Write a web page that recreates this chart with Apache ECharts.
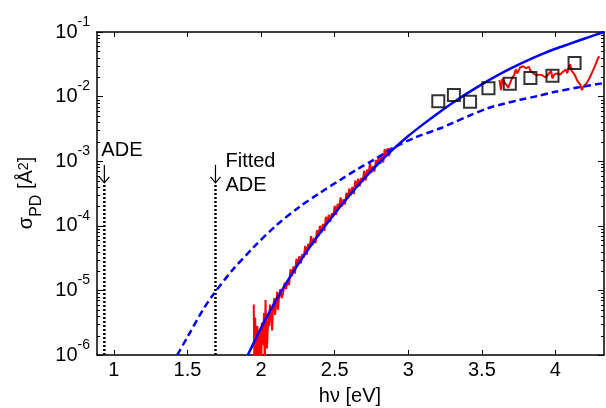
<!DOCTYPE html>
<html><head><meta charset="utf-8">
<script src="https://cdn.jsdelivr.net/npm/echarts@6/dist/echarts.min.js"></script>
<style>html,body{margin:0;padding:0;background:#fff}#c{width:606px;height:408px}</style>
</head><body><div id="c"></div>
<script>
const FONT = '"Liberation Sans", Arial, Helvetica, sans-serif';
const X_MIN = 0.885, X_MAX = 4.33;
const Y_MIN = 1e-6, Y_MAX = 1e-1;
const xTicks = [1, 1.5, 2, 2.5, 3, 3.5, 4];
const yDecadeExps = [-6, -5, -4, -3, -2, -1];
const minorMantissas = [2, 3, 4, 5, 6, 7, 8, 9];
const adeX = [0.935, 1.69];
const adeTop = 4.3e-4;

// [hν (eV), log10 σ]
const fitSolidLog = [[1.91,-6.0],[2.0,-5.58],[2.1,-5.16],[2.2,-4.78],[2.3,-4.43],[2.4,-4.11],[2.5,-3.81],[2.6,-3.53],[2.7,-3.27],[2.8,-3.03],[2.9,-2.81],[3.0,-2.61],[3.1,-2.43],[3.2,-2.26],[3.3,-2.10],[3.4,-1.95],[3.5,-1.81],[3.6,-1.68],[3.7,-1.56],[3.8,-1.45],[3.9,-1.35],[4.0,-1.26],[4.1,-1.18],[4.2,-1.10],[4.33,-1.0]];
const fitDashedLog = [[1.43,-6.0],[1.5,-5.72],[1.605,-5.30],[1.67,-5.08],[1.8,-4.70],[1.946,-4.34],[2.1,-4.00],[2.265,-3.70],[2.4,-3.49],[2.537,-3.29],[2.65,-3.13],[2.764,-2.98],[2.91,-2.78],[3.05,-2.63],[3.218,-2.49],[3.3,-2.41],[3.42,-2.29],[3.54,-2.18],[3.65,-2.11],[3.76,-2.05],[3.88,-1.99],[3.99,-1.93],[4.15,-1.86],[4.33,-1.79]];
const expLowLog = [[1.95,-5.22],[1.955,-6.3],[1.96,-5.42],[1.965,-6.3],[1.97,-5.7],[1.975,-5.55],[1.98,-6.3],[1.99,-5.62],[2.00,-6.3],[2.005,-5.5],[2.01,-5.85],[2.02,-5.35],[2.025,-6.2],[2.03,-5.15],[2.035,-5.6],[2.04,-5.9],[2.05,-5.35],[2.055,-5.55],[2.06,-5.22],[2.07,-5.45],[2.075,-5.62],[2.08,-5.3],[2.09,-5.12],[2.095,-5.38],[2.10,-5.26],[2.11,-5.02],[2.115,-5.3],[2.12,-5.15],[2.13,-4.98],[2.14,-5.12],[2.15,-5.04],[2.16,-4.88],[2.17,-4.98],[2.18,-4.84],[2.19,-4.92],[2.20,-4.67],[2.21,-4.78],[2.22,-4.63],[2.23,-4.74],[2.24,-4.51],[2.25,-4.60],[2.26,-4.47],[2.27,-4.58],[2.28,-4.44],[2.29,-4.49],[2.30,-4.31],[2.31,-4.45],[2.32,-4.28],[2.33,-4.33],[2.34,-4.16],[2.35,-4.30],[2.36,-4.19],[2.37,-4.27],[2.38,-4.07],[2.39,-4.15],[2.40,-4.00],[2.41,-4.11],[2.42,-3.97],[2.43,-4.08],[2.44,-3.86],[2.45,-3.95],[2.46,-3.83],[2.47,-3.94],[2.48,-3.81],[2.49,-3.86],[2.50,-3.69],[2.51,-3.83],[2.52,-3.66],[2.53,-3.73],[2.54,-3.56],[2.55,-3.70],[2.56,-3.59],[2.57,-3.67],[2.58,-3.49],[2.59,-3.57],[2.60,-3.42],[2.61,-3.53],[2.62,-3.40],[2.63,-3.51],[2.64,-3.30],[2.65,-3.39],[2.66,-3.27],[2.67,-3.39],[2.68,-3.26],[2.69,-3.32],[2.70,-3.15],[2.71,-3.30],[2.72,-3.13],[2.73,-3.20],[2.74,-3.03],[2.75,-3.18],[2.76,-3.08],[2.77,-3.16],[2.78,-2.98],[2.79,-3.06],[2.80,-2.92],[2.81,-3.04],[2.82,-2.91],[2.83,-3.02],[2.84,-2.81],[2.85,-2.91],[2.86,-2.80],[2.87,-2.92],[2.88,-2.79]];
const expHighLog = [[3.62,-1.74],[3.63,-1.90],[3.64,-1.72],[3.66,-1.80],[3.68,-1.86],[3.70,-1.74],[3.72,-1.66],[3.73,-1.58],[3.74,-1.64],[3.76,-1.55],[3.78,-1.53],[3.80,-1.56],[3.82,-1.54],[3.83,-1.60],[3.85,-1.64],[3.87,-1.67],[3.89,-1.66],[3.91,-1.67],[3.93,-1.70],[3.95,-1.66],[3.97,-1.60],[3.98,-1.72],[3.99,-1.66],[4.01,-1.64],[4.03,-1.66],[4.05,-1.62],[4.07,-1.58],[4.08,-1.64],[4.09,-1.55],[4.10,-1.50],[4.11,-1.60],[4.13,-1.66],[4.15,-1.76],[4.17,-1.82],[4.18,-1.90],[4.19,-1.84],[4.21,-1.80],[4.23,-1.72],[4.25,-1.62],[4.27,-1.52],[4.29,-1.40],[4.30,-1.38]];
const squaresX = [3.204, 3.31, 3.42, 3.545, 3.69, 3.83, 3.98, 4.13];
const squaresY = [8.5e-3, 1.06e-2, 8.3e-3, 1.35e-2, 1.58e-2, 1.94e-2, 2.1e-2, 3.3e-2];

const fromLog = arr => arr.map(p => [p[0], Math.pow(10, p[1])]);
const minorVals = [];
yDecadeExps.slice(0, -1).forEach(e => minorMantissas.forEach(m => minorVals.push(m * Math.pow(10, e))));

const chart = echarts.init(document.getElementById('c'), null, {renderer: 'canvas'});
const axisLine = {show: true, lineStyle: {color: '#000', width: 1.5}};
const option = {
  animation: false,
  backgroundColor: '#fff',
  textStyle: {fontFamily: FONT},
  grid: {left: 97, right: 2, top: 32, bottom: 53, containLabel: false},
  xAxis: [{
    type: 'value', min: X_MIN, max: X_MAX, position: 'bottom',
    axisLine, splitLine: {show: false},
    axisTick: {inside: true, length: 5, lineStyle: {color: '#000', width: 1}, customValues: xTicks},
    axisLabel: {customValues: xTicks, color: '#000', fontSize: 20, fontFamily: FONT, margin: 5, formatter: v => String(v)}
  }, {
    type: 'value', min: X_MIN, max: X_MAX, position: 'top',
    axisLine, splitLine: {show: false},
    axisTick: {inside: true, length: 5, lineStyle: {color: '#000', width: 1}, customValues: xTicks},
    axisLabel: {show: false}
  }],
  yAxis: [{
    type: 'log', logBase: 10, min: Y_MIN, max: Y_MAX, position: 'left',
    axisLine, splitLine: {show: false},
    axisTick: {inside: true, length: 6, lineStyle: {color: '#000', width: 1}},
    axisLabel: {
      color: '#000', margin: 7, fontFamily: FONT,
      formatter: v => '{b|10}{s|' + Math.round(Math.log10(v)) + '}',
      rich: {
        b: {fontSize: 20, lineHeight: 20, fontFamily: FONT, color: '#000'},
        s: {fontSize: 14, lineHeight: 14, padding: [0, 0, 20, 0], fontFamily: FONT, color: '#000'}
      }
    }
  }, {
    type: 'log', logBase: 10, min: Y_MIN, max: Y_MAX, position: 'right',
    axisLine, splitLine: {show: false},
    axisTick: {inside: true, length: 6, lineStyle: {color: '#000', width: 1}},
    axisLabel: {show: false}
  }],
  series: [
    {type: 'custom', silent: true, clip: false, z: 1, xAxisIndex: 0, yAxisIndex: 0,
      data: minorVals.map(v => [X_MIN, v]),
      renderItem(params, api) {
        const cs = params.coordSys;
        const y = Math.round(api.coord([X_MIN, api.value(1)])[1]) + 0.5;
        return {type: 'group', children: [
          {type: 'line', shape: {x1: cs.x, y1: y, x2: cs.x + 3, y2: y}, style: {stroke: '#000', lineWidth: 1}},
          {type: 'line', shape: {x1: cs.x + cs.width - 3, y1: y, x2: cs.x + cs.width, y2: y}, style: {stroke: '#000', lineWidth: 1}}
        ]};
      }
    },
    ...adeX.map(x => ({type: 'line', symbol: 'none', silent: true, z: 2,
      data: [[x, Y_MIN], [x, adeTop]],
      lineStyle: {color: '#000', width: 2.5, type: [2, 2]}})),
    {type: 'line', name: 'exp1', symbol: 'none', z: 3, data: fromLog(expLowLog), lineStyle: {color: '#ff0000', width: 2}},
    {type: 'line', name: 'exp2', symbol: 'none', z: 3, data: fromLog(expHighLog), lineStyle: {color: '#ff0000', width: 2}},
    {type: 'line', name: 'dashed', symbol: 'none', smooth: 0.3, z: 4, data: fromLog(fitDashedLog), lineStyle: {color: '#0000ff', width: 2.5, type: [7, 4]}},
    {type: 'line', name: 'solid', symbol: 'none', smooth: 0.3, z: 4, data: fromLog(fitSolidLog), lineStyle: {color: '#0000ff', width: 2.5}},
    {type: 'scatter', name: 'squares', z: 5, symbol: 'rect', symbolSize: 12,
      data: squaresX.map((x, i) => [x, squaresY[i]]),
      itemStyle: {color: 'rgba(0,0,0,0)', borderColor: '#000', borderWidth: 2}}
  ]
};
chart.setOption(option);

const px0 = chart.convertToPixel({xAxisIndex: 0, yAxisIndex: 0}, [adeX[0], adeTop]);
const px1 = chart.convertToPixel({xAxisIndex: 0, yAxisIndex: 0}, [adeX[1], adeTop]);
const txt = (x, y, text, align) => ({type: 'text', x, y, silent: true,
  style: {text, fill: '#000', font: '20px ' + FONT, textAlign: align || 'left', textVerticalAlign: 'middle'}});
const arrow = (x, yBottom) => ([
  {type: 'line', silent: true, shape: {x1: x, y1: yBottom - 19, x2: x, y2: yBottom - 1}, style: {stroke: '#000', lineWidth: 1.2}},
  {type: 'polyline', silent: true, shape: {points: [[x - 5, yBottom - 7], [x, yBottom - 1], [x + 5, yBottom - 7]]}, style: {stroke: '#000', lineWidth: 1.2, fill: null}}
]);
chart.setOption({graphic: [
  txt(px0[0] - 3, px0[1] - 34, 'ADE'),
  ...arrow(px0[0], px0[1] - 1),
  ...arrow(px1[0], px1[1] - 1),
  txt(px1[0] + 10, px1[1] - 23, 'Fitted'),
  txt(px1[0] + 10, px1[1] + 1, 'ADE'),
  {type: 'text', x: 350, y: 396, silent: true,
    style: {text: 'hν [eV]', fill: '#000', font: '20px ' + FONT, textAlign: 'center', textVerticalAlign: 'middle'}},
  {type: 'text', x: 26, y: 193, rotation: Math.PI / 2, silent: true,
    style: {
      text: '{m|σ}{sub|PD}{m| [Å}{sup|2}{m|]}', textAlign: 'center', textVerticalAlign: 'middle',
      rich: {
        m: {fontSize: 20, lineHeight: 20, fontFamily: FONT, fill: '#000'},
        sub: {fontSize: 16, lineHeight: 16, padding: [21, 0, 0, 0], fontFamily: FONT, fill: '#000'},
        sup: {fontSize: 14, lineHeight: 14, padding: [0, 0, 4, 0], fontFamily: FONT, fill: '#000'}
      }
    }}
]});
</script></body></html>
